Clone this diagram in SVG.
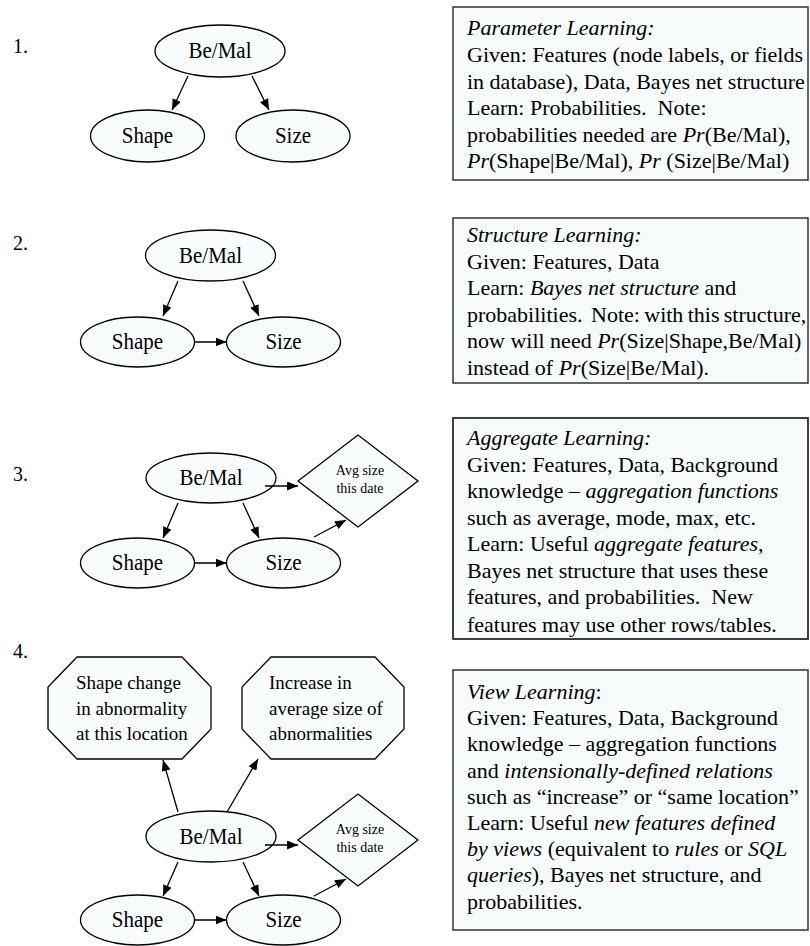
<svg xmlns="http://www.w3.org/2000/svg" width="810" height="946" viewBox="0 0 810 946">
<style>
text { font-family: "Liberation Serif", "Times New Roman", Times, serif; fill: #000; }
.num { font-size: 20px; }
.lbl { font-size: 20px; text-anchor: middle; }
.oct { font-size: 19px; }
.dia { font-size: 14px; text-anchor: middle; }
.box { font-size: 22px; }
.i { font-style: italic; }
.shape { fill: #f8fcfd; stroke: #000; stroke-width: 1.3; }
.panel { fill: #f7fbfc; stroke: #333; stroke-width: 1.5; }
.edge { stroke: #000; stroke-width: 1.3; fill: none; marker-end: url(#ah); }
</style>
<defs>
<marker id="ah" markerWidth="11" markerHeight="9" refX="11" refY="4.5" orient="auto" markerUnits="userSpaceOnUse">
<path d="M0,0 L11,4.5 L0,9 z" fill="#000"/>
</marker>
<clipPath id="clip3"><rect x="453" y="418" width="355" height="221"/></clipPath>
</defs>
<rect width="810" height="946" fill="#fff"/>

<!-- Panel 1 -->
<text class="num" x="13" y="53">1.</text>
<g id="p1-bemal"><ellipse class="shape" cx="220" cy="51" rx="65" ry="26"/><text class="lbl" transform="translate(220,58) scale(1.05,1.12)">Be/Mal</text></g>
<g id="p1-shape"><ellipse class="shape" cx="147.5" cy="136" rx="57" ry="26"/><text class="lbl" transform="translate(147.5,143) scale(1.05,1.12)">Shape</text></g>
<g id="p1-size"><ellipse class="shape" cx="293" cy="136" rx="57" ry="26"/><text class="lbl" transform="translate(293,143) scale(1.05,1.12)">Size</text></g>
<g id="p1-text">
<rect class="panel" x="453" y="7" width="355" height="173"/>
<text class="box" x="467" y="35"><tspan class="i">Parameter Learning:</tspan></text>
<text class="box" x="467" y="62">Given: Features (node labels, or fields</text>
<text class="box" x="467" y="88.5">in database), Data, Bayes net structure</text>
<text class="box" x="467" y="115" xml:space="preserve">Learn: Probabilities.  Note:</text>
<text class="box" x="467" y="141.5">probabilities needed are <tspan class="i">Pr</tspan>(Be/Mal),</text>
<text class="box" x="467" y="168"><tspan class="i">Pr</tspan>(Shape|Be/Mal), <tspan class="i">Pr</tspan> (Size|Be/Mal)</text>
</g>

<!-- Panel 2 -->
<text class="num" x="13" y="250">2.</text>
<g id="p2-bemal"><ellipse class="shape" cx="210.5" cy="255.5" rx="65" ry="25.5"/><text class="lbl" transform="translate(210.5,262.5) scale(1.05,1.12)">Be/Mal</text></g>
<g id="p2-shape"><ellipse class="shape" cx="137.5" cy="342" rx="57" ry="25"/><text class="lbl" transform="translate(137.5,349) scale(1.05,1.12)">Shape</text></g>
<g id="p2-size"><ellipse class="shape" cx="283.5" cy="342" rx="57" ry="25"/><text class="lbl" transform="translate(283.5,349) scale(1.05,1.12)">Size</text></g>
<g id="p2-text">
<rect class="panel" x="453" y="218" width="355" height="165"/>
<text class="box" x="467" y="242"><tspan class="i">Structure Learning:</tspan></text>
<text class="box" x="467" y="268.5">Given: Features, Data</text>
<text class="box" x="467" y="295">Learn: <tspan class="i">Bayes net structure</tspan> and</text>
<text class="box" x="467" y="321.5" xml:space="preserve" word-spacing="-1.2">probabilities.  Note: with this structure,</text>
<text class="box" x="467" y="348">now will need <tspan class="i">Pr</tspan>(Size|Shape,Be/Mal)</text>
<text class="box" x="467" y="374.5">instead of <tspan class="i">Pr</tspan>(Size|Be/Mal).</text>
</g>

<!-- Panel 3 -->
<text class="num" x="13" y="481">3.</text>
<g id="p3-bemal"><ellipse class="shape" cx="211" cy="478" rx="65" ry="25"/><text class="lbl" transform="translate(211,485) scale(1.05,1.12)">Be/Mal</text></g>
<g id="p3-shape"><ellipse class="shape" cx="137.5" cy="563" rx="57" ry="25"/><text class="lbl" transform="translate(137.5,570) scale(1.05,1.12)">Shape</text></g>
<g id="p3-size"><ellipse class="shape" cx="283.5" cy="563" rx="57" ry="25"/><text class="lbl" transform="translate(283.5,570) scale(1.05,1.12)">Size</text></g>
<g id="p3-avg"><polygon class="shape" points="298,481 358,435 418,481 358,527"/><text class="dia" x="360" y="475">Avg size</text><text class="dia" x="360" y="493">this date</text></g>
<g id="p3-text">
<rect class="panel" x="453" y="418" width="355" height="221"/>
<g clip-path="url(#clip3)">
<text class="box" x="467" y="445"><tspan class="i">Aggregate Learning:</tspan></text>
<text class="box" x="467" y="471.5">Given: Features, Data, Background</text>
<text class="box" x="467" y="498">knowledge – <tspan class="i">aggregation functions</tspan></text>
<text class="box" x="467" y="524.5">such as average, mode, max, etc.</text>
<text class="box" x="467" y="551">Learn: Useful <tspan class="i">aggregate features</tspan>,</text>
<text class="box" x="467" y="577.5">Bayes net structure that uses these</text>
<text class="box" x="467" y="604" xml:space="preserve">features, and probabilities.  New</text>
<text class="box" x="467" y="632">features may use other rows/tables.</text>
</g>
<rect x="453" y="418" width="355" height="221" fill="none" stroke="#333" stroke-width="1.5"/>
</g>

<!-- Panel 4 -->
<text class="num" x="13" y="658">4.</text>
<g id="p4-shapechange"><polygon class="shape" points="77,657 182,657 211,687 211,729 182,759 77,759 48,729 48,687"/>
<text class="oct" x="76" y="689">Shape change</text><text class="oct" x="76" y="715">in abnormality</text><text class="oct" x="76" y="740">at this location</text></g>
<g id="p4-increase"><polygon class="shape" points="271,657 375,657 404,687 404,729 375,759 271,759 242,729 242,687"/>
<text class="oct" x="269" y="689">Increase in</text><text class="oct" x="269" y="715">average size of</text><text class="oct" x="269" y="740">abnormalities</text></g>
<g id="p4-bemal"><ellipse class="shape" cx="211" cy="836.5" rx="65" ry="25.5"/><text class="lbl" transform="translate(211,843.5) scale(1.05,1.12)">Be/Mal</text></g>
<g id="p4-shape"><ellipse class="shape" cx="137.5" cy="920" rx="57" ry="25"/><text class="lbl" transform="translate(137.5,927) scale(1.05,1.12)">Shape</text></g>
<g id="p4-size"><ellipse class="shape" cx="283.5" cy="920" rx="57" ry="25"/><text class="lbl" transform="translate(283.5,927) scale(1.05,1.12)">Size</text></g>
<g id="p4-avg"><polygon class="shape" points="298,840 358,794 418,840 358,886"/><text class="dia" x="360" y="834">Avg size</text><text class="dia" x="360" y="852">this date</text></g>
<g id="p4-text">
<rect class="panel" x="453" y="670" width="355" height="260"/>
<text class="box" x="467" y="699"><tspan class="i">View Learning</tspan>:</text>
<text class="box" x="467" y="725.2">Given: Features, Data, Background</text>
<text class="box" x="467" y="751.4">knowledge – aggregation functions</text>
<text class="box" x="467" y="777.6">and <tspan class="i">intensionally-defined relations</tspan></text>
<text class="box" x="467" y="803.8">such as “increase” or “same location”</text>
<text class="box" x="467" y="830">Learn: Useful <tspan class="i">new features defined</tspan></text>
<text class="box" x="467" y="856.2"><tspan class="i">by views</tspan> (equivalent to <tspan class="i">rules</tspan> or <tspan class="i">SQL</tspan></text>
<text class="box" x="467" y="882.4"><tspan class="i">queries</tspan>), Bayes net structure, and</text>
<text class="box" x="467" y="908.6">probabilities.</text>
</g>

<g id="connectors">
<line class="edge" x1="188" y1="76" x2="172" y2="110"/>
<line class="edge" x1="252" y1="76" x2="269" y2="110"/>
<line class="edge" x1="178" y1="281" x2="163" y2="316"/>
<line class="edge" x1="243" y1="281" x2="259" y2="316"/>
<line class="edge" x1="194.5" y1="342" x2="226.5" y2="342"/>
<line class="edge" x1="265" y1="486" x2="298" y2="486"/>
<line class="edge" x1="178" y1="503" x2="163" y2="538"/>
<line class="edge" x1="243" y1="503" x2="259" y2="538"/>
<line class="edge" x1="194.5" y1="563" x2="226.5" y2="563"/>
<line class="edge" x1="314" y1="537" x2="346" y2="520"/>
<line class="edge" x1="178" y1="812" x2="163" y2="760"/>
<line class="edge" x1="227" y1="812" x2="258" y2="759"/>
<line class="edge" x1="265" y1="845" x2="298" y2="845"/>
<line class="edge" x1="178" y1="862" x2="163" y2="896"/>
<line class="edge" x1="243" y1="862" x2="259" y2="896"/>
<line class="edge" x1="194.5" y1="920" x2="226.5" y2="920"/>
<line class="edge" x1="314" y1="896" x2="346" y2="879"/>
</g>
</svg>
